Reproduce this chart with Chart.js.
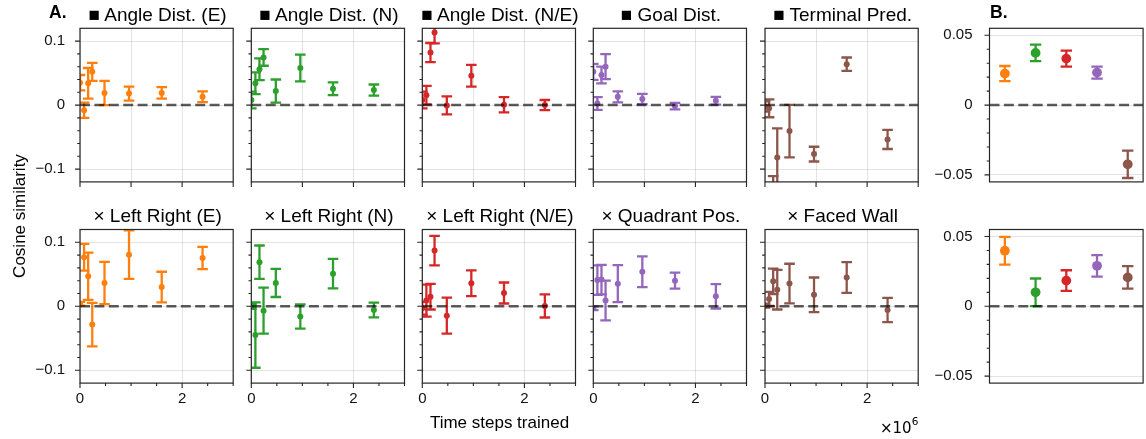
<!DOCTYPE html>
<html>
<head>
<meta charset="utf-8">
<script src="https://cdn.jsdelivr.net/npm/chart.js@4/dist/chart.umd.min.js"></script>
<style>
  html, body { margin: 0; padding: 0; background: #fff; }
  #fig { position: relative; width: 1146px; height: 439px; overflow: hidden; background: #fff; }
  #fig canvas { position: absolute; }
  #labels { position: absolute; left: 0; top: 0; pointer-events: none; }
  #labels text { font-family: "Liberation Sans", Arial, sans-serif; fill: #000; }
</style>
</head>
<body>
<div id="fig"></div>
<script>
// ---------------------------------------------------------------
// Data: cosine similarity between probe directions, per checkpoint
// ---------------------------------------------------------------
const steps = [0, 80000, 160000, 240000, 480000, 960000, 1600000, 2400000];

// ■ probes (top row): mean and standard error at each checkpoint
const angleE_mean   = [0.035, -0.008, 0.034, 0.052, 0.019, 0.018, 0.019, 0.013];
const angleE_err    = [0.012, 0.012, 0.024, 0.014, 0.019, 0.011, 0.009, 0.0085];
const angleN_mean   = [0.008, 0.034, 0.056, 0.0745, 0.022, 0.058, 0.0255, 0.0235];
const angleN_err    = [0.013, 0.017, 0.017, 0.013, 0.018, 0.021, 0.010, 0.0087];
const angleNE_mean  = [0.008, 0.0155, 0.082, 0.1135, -0.0005, 0.046, 0.0005, 0.0];
const angleNE_err   = [0.013, 0.0145, 0.015, 0.017, 0.014, 0.017, 0.012, 0.008];
const goalDist_mean = [0.052, 0.0026, 0.047, 0.06, 0.013, 0.0094, -0.0016, 0.0068];
const goalDist_err  = [0.0125, 0.010, 0.013, 0.0195, 0.0086, 0.008, 0.005, 0.006];
const terminal_mean = [-0.002, -0.005, -0.145, -0.082, -0.0406, -0.0766, 0.064, -0.0536];
const terminal_err  = [0.008, 0.014, 0.034, 0.0456, 0.041, 0.0115, 0.0104, 0.015];

// × probes (bottom row)
const leftRightE_mean  = [0.004, 0.0766, 0.047, -0.0286, 0.0365, 0.0807, 0.030, 0.0755];
const leftRightE_err   = [0.003, 0.021, 0.037, 0.034, 0.033, 0.038, 0.024, 0.0175];
const leftRightN_mean  = [0.0, -0.045, 0.069, -0.0068, 0.0365, -0.016, 0.051, -0.0057];
const leftRightN_err   = [0.004, 0.051, 0.026, 0.036, 0.022, 0.019, 0.023, 0.0115];
const leftRightNE_mean = [-0.003, 0.009, 0.015, 0.087, -0.0146, 0.036, 0.0208, 0.0005];
const leftRightNE_err  = [0.010, 0.025, 0.020, 0.023, 0.028, 0.020, 0.0164, 0.018];
const quadrant_mean    = [-0.003, 0.041, 0.0417, 0.009, 0.0354, 0.054, 0.040, 0.0156];
const quadrant_err     = [0.003, 0.023, 0.023, 0.031, 0.029, 0.024, 0.0125, 0.019];
const facedWall_mean   = [0.001, 0.0115, 0.039, 0.026, 0.0355, 0.018, 0.045, -0.0057];
const facedWall_err    = [0.003, 0.011, 0.020, 0.031, 0.031, 0.027, 0.024, 0.019];

// Panel B: averages over training, one point per probe
const summaryTop_mean    = [0.0226, 0.0374, 0.0333, 0.0233, -0.0424];
const summaryTop_err     = [0.0054, 0.0059, 0.0057, 0.0043, 0.0098];
const summaryBottom_mean = [0.0398, 0.010, 0.0184, 0.029, 0.0207];
const summaryBottom_err  = [0.0099, 0.0099, 0.0074, 0.0077, 0.0081];

const topTitles    = ['Angle Dist. (E)', 'Angle Dist. (N)', 'Angle Dist. (N/E)', 'Goal Dist.', 'Terminal Pred.'];
const bottomTitles = ['Left Right (E)', 'Left Right (N)', 'Left Right (N/E)', 'Quadrant Pos.', 'Faced Wall'];
const probeColors  = ['#ff7f0e', '#2ca02c', '#d62728', '#9467bd', '#8c564b'];

// Tick positions
const yTicksA      = [-0.1, -0.08, -0.06, -0.04, -0.02, 0, 0.02, 0.04, 0.06, 0.08, 0.1];
const yMajorA      = [-0.1, 0, 0.1];
const yTicksB      = [-0.05, -0.04, -0.03, -0.02, -0.01, 0, 0.01, 0.02, 0.03, 0.04, 0.05];
const yMajorB      = [-0.05, 0, 0.05];
const xTicksTop    = [0, 1000000, 2000000, 3000000];
const xMajorTop    = [0, 1000000, 2000000, 3000000];
const xTicksBottom = [0, 500000, 1000000, 1500000, 2000000, 2500000, 3000000];
const xMajorBottom = [0, 2000000];

// ---------------------------------------------------------------
// Layout of the axes boxes (page pixels)
// ---------------------------------------------------------------
const COLS = [80, 251.3, 422.3, 593.3, 765];
const PANEL_W = 153.2;
const B_LEFT = 989.5, B_W = 153.6;
const ROWS = [28.3, 229.5];
const PANEL_H = 153.6;
const MARGIN = { l: 60, r: 10, t: 10, b: 34 };

Chart.defaults.font.family = '"Liberation Sans", Arial, sans-serif';
Chart.defaults.font.size = 15;
Chart.defaults.color = '#000';

const isIn = (list, v) => list.some(m => Math.abs(m - v) < 1e-9);
const fmtY = v => Math.abs(v) < 1e-12 ? '0' : (v < 0 ? '\u2212' : '') + String(+Math.abs(v).toFixed(3));
const fmtX = v => String(v / 1e6);

function panelPlugin(cfg) {
  return {
    id: 'panelDecor',
    beforeDatasetsDraw(chart) {
      // error bars, under the markers
      const { ctx, chartArea: a } = chart;
      const ys = chart.scales.y;
      ctx.save();
      ctx.beginPath();
      ctx.rect(a.left, a.top, a.right - a.left, a.bottom - a.top);
      ctx.clip();
      chart.data.datasets.forEach((ds, di) => {
        const meta = chart.getDatasetMeta(di);
        meta.data.forEach((pt, i) => {
          const raw = ds.data[i];
          const m = typeof raw === 'number' ? raw : raw.y;
          const e = ds.errors[i];
          const y0 = ys.getPixelForValue(m - e);
          const y1 = ys.getPixelForValue(m + e);
          ctx.strokeStyle = Array.isArray(ds.barColor) ? ds.barColor[i] : ds.barColor;
          ctx.lineWidth = cfg.barWidth;
          ctx.lineCap = 'butt';
          ctx.beginPath();
          ctx.moveTo(pt.x, y0); ctx.lineTo(pt.x, y1);
          ctx.moveTo(pt.x - cfg.cap, y0); ctx.lineTo(pt.x + cfg.cap, y0);
          ctx.moveTo(pt.x - cfg.cap, y1); ctx.lineTo(pt.x + cfg.cap, y1);
          ctx.stroke();
        });
      });
      ctx.restore();
    },
    afterDatasetsDraw(chart) {
      // dashed reference line at zero
      const { ctx, chartArea: a } = chart;
      const y = chart.scales.y.getPixelForValue(0);
      ctx.save();
      ctx.beginPath();
      ctx.rect(a.left, a.top, a.right - a.left, a.bottom - a.top);
      ctx.clip();
      ctx.strokeStyle = 'rgba(0,0,0,0.64)';
      ctx.lineWidth = 2.5;
      ctx.setLineDash([10, 4.4]);
      ctx.beginPath();
      ctx.moveTo(a.left, y); ctx.lineTo(a.right, y);
      ctx.stroke();
      ctx.restore();
    },
    afterDraw(chart) {
      // outward tick marks and the axes frame
      const { ctx, chartArea: a } = chart;
      ctx.save();
      ctx.strokeStyle = '#262626';
      ctx.lineWidth = 1.1;
      ctx.beginPath();
      const ys = chart.scales.y;
      ys.ticks.forEach(t => {
        const py = ys.getPixelForValue(t.value);
        const len = t.major ? 5 : 2.8;
        ctx.moveTo(a.left - len, py); ctx.lineTo(a.left, py);
      });
      if (cfg.xTickMarks) {
        const xs = chart.scales.x;
        xs.ticks.forEach(t => {
          const px = xs.getPixelForValue(t.value);
          const len = t.major ? 5 : 2.8;
          ctx.moveTo(px, a.bottom); ctx.lineTo(px, a.bottom + len);
        });
      }
      ctx.stroke();
      ctx.lineWidth = 1.2;
      ctx.strokeRect(a.left, a.top, a.right - a.left, a.bottom - a.top);
      ctx.restore();
    }
  };
}

function makePanel(p) {
  const fig = document.getElementById('fig');
  const cx = Math.floor(p.left) - MARGIN.l;
  const cy = Math.floor(p.top) - MARGIN.t;
  const W = Math.ceil(p.left + p.w) + MARGIN.r - cx;
  const H = Math.ceil(p.top + p.h) + MARGIN.b - cy;
  const padL = p.left - cx, padT = p.top - cy;
  const padR = cx + W - (p.left + p.w), padB = cy + H - (p.top + p.h);

  const canvas = document.createElement('canvas');
  canvas.width = W; canvas.height = H;
  canvas.style.left = cx + 'px'; canvas.style.top = cy + 'px';
  canvas.style.width = W + 'px'; canvas.style.height = H + 'px';
  fig.appendChild(canvas);

  const gridColor = ctx => (ctx.tick && ctx.tick.major) ? 'rgba(0,0,0,0.11)' : 'rgba(0,0,0,0)';
  const noPad = s => { s.paddingTop = 0; s.paddingBottom = 0; s.paddingLeft = 0; s.paddingRight = 0; };

  const yScale = {
    type: 'linear', min: p.yMin, max: p.yMax, bounds: 'data',
    afterBuildTicks: s => { s.ticks = p.yTicks.map(v => ({ value: v, major: isIn(p.yMajor, v) })); },
    afterFit: s => { s.width = padL; noPad(s); },
    grid: { color: gridColor, lineWidth: 1, drawTicks: false },
    border: { display: false },
    ticks: {
      autoSkip: false, padding: p.yPad, color: '#111',
      callback: (v) => (p.yLabels && isIn(p.yMajor, v)) ? fmtY(v) : ''
    }
  };

  let xScale;
  if (p.kind === 'A') {
    xScale = {
      type: 'linear', min: 0, max: 3000000, bounds: 'data',
      afterBuildTicks: s => { s.ticks = p.xTicks.map(v => ({ value: v, major: isIn(p.xMajor, v) })); },
      afterFit: s => { s.height = padB; noPad(s); },
      grid: { color: gridColor, lineWidth: 1, drawTicks: false },
      border: { display: false },
      ticks: {
        autoSkip: false, maxRotation: 0, padding: 7, color: '#111',
        callback: (v) => (p.xLabels && isIn(p.xMajor, v)) ? fmtX(v) : ''
      }
    };
  } else {
    xScale = {
      type: 'category', offset: true,
      afterFit: s => { s.height = padB; noPad(s); },
      grid: { display: false, drawTicks: false },
      border: { display: false },
      ticks: { display: false }
    };
  }

  new Chart(canvas, {
    type: p.kind === 'A' ? 'scatter' : 'line',
    data: p.data,
    options: {
      responsive: false, animation: false, devicePixelRatio: 1, events: [],
      layout: { padding: { left: 0, top: padT, right: padR, bottom: 0 } },
      plugins: { legend: { display: false }, tooltip: { enabled: false }, title: { display: false } },
      scales: { x: xScale, y: yScale }
    },
    plugins: [panelPlugin({ barWidth: 2.3, cap: p.kind === 'A' ? 5.3 : 5.7, xTickMarks: p.kind === 'A' })]
  });
}

function seriesData(means, errs, color) {
  return {
    datasets: [{
      data: steps.map((s, i) => ({ x: s, y: means[i] })),
      errors: errs, barColor: color,
      pointBackgroundColor: color, pointBorderWidth: 0, pointRadius: 3,
      showLine: false, clip: 0
    }]
  };
}

function summaryData(names, means, errs) {
  return {
    labels: names,
    datasets: [{
      data: means, errors: errs, barColor: probeColors,
      pointBackgroundColor: probeColors, pointBorderWidth: 0, pointRadius: 4.9,
      showLine: false, clip: 0
    }]
  };
}

const topSeries = [
  [angleE_mean, angleE_err], [angleN_mean, angleN_err], [angleNE_mean, angleNE_err],
  [goalDist_mean, goalDist_err], [terminal_mean, terminal_err]
];
const bottomSeries = [
  [leftRightE_mean, leftRightE_err], [leftRightN_mean, leftRightN_err], [leftRightNE_mean, leftRightNE_err],
  [quadrant_mean, quadrant_err], [facedWall_mean, facedWall_err]
];

[topSeries, bottomSeries].forEach((rowSeries, r) => {
  rowSeries.forEach(([m, e], c) => {
    makePanel({
      kind: 'A', left: COLS[c], top: ROWS[r], w: PANEL_W, h: PANEL_H,
      yMin: -0.12, yMax: 0.12, yTicks: yTicksA, yMajor: yMajorA, yLabels: c === 0, yPad: 15,
      xTicks: r === 0 ? xTicksTop : xTicksBottom, xMajor: r === 0 ? xMajorTop : xMajorBottom,
      xLabels: r === 1,
      data: seriesData(m, e, probeColors[c])
    });
  });
});

makePanel({
  kind: 'B', left: B_LEFT, top: ROWS[0], w: B_W, h: PANEL_H,
  yMin: -0.055, yMax: 0.055, yTicks: yTicksB, yMajor: yMajorB, yLabels: true, yPad: 17,
  data: summaryData(topTitles, summaryTop_mean, summaryTop_err)
});
makePanel({
  kind: 'B', left: B_LEFT, top: ROWS[1], w: B_W, h: PANEL_H,
  yMin: -0.055, yMax: 0.055, yTicks: yTicksB, yMajor: yMajorB, yLabels: true, yPad: 17,
  data: summaryData(bottomTitles, summaryBottom_mean, summaryBottom_err)
});

// ---------------------------------------------------------------
// Figure text: panel letters, titles, shared axis labels
// ---------------------------------------------------------------
const NS = 'http://www.w3.org/2000/svg';
const svg = document.createElementNS(NS, 'svg');
svg.setAttribute('id', 'labels');
svg.setAttribute('width', 1146);
svg.setAttribute('height', 439);
document.getElementById('fig').appendChild(svg);

function addText(str, x, y, attrs) {
  const t = document.createElementNS(NS, 'text');
  t.setAttribute('x', x); t.setAttribute('y', y);
  Object.entries(attrs || {}).forEach(([k, v]) => t.setAttribute(k, v));
  t.textContent = str;
  svg.appendChild(t);
  return t;
}

addText('A.', 49, 18.3, { 'font-size': 17.5, 'font-weight': 'bold' });
addText('B.', 990, 18.3, { 'font-size': 17.5, 'font-weight': 'bold' });

topTitles.forEach((name, c) => {
  addText('\u25A0 ' + name, COLS[c] + PANEL_W / 2 + 1, 20.7, { 'font-size': 19, 'text-anchor': 'middle' });
});
bottomTitles.forEach((name, c) => {
  addText('\u00D7 ' + name, COLS[c] + PANEL_W / 2 + 1, 222.3, { 'font-size': 19, 'text-anchor': 'middle' });
});

addText('Cosine similarity', 0, 0, {
  'font-size': 17, 'text-anchor': 'middle', transform: 'translate(24.5,216) rotate(-90)'
});
addText('Time steps trained', 499.5, 428, { 'font-size': 17, 'text-anchor': 'middle' });

const off = addText('\u00D710', 880, 433, { 'font-size': 15, style: 'font-family:"DejaVu Sans",sans-serif' });
const sup = document.createElementNS(NS, 'tspan');
sup.setAttribute('dy', -8);
sup.setAttribute('font-size', 10.5);
sup.textContent = '6';
off.appendChild(sup);
</script>
</body>
</html>
